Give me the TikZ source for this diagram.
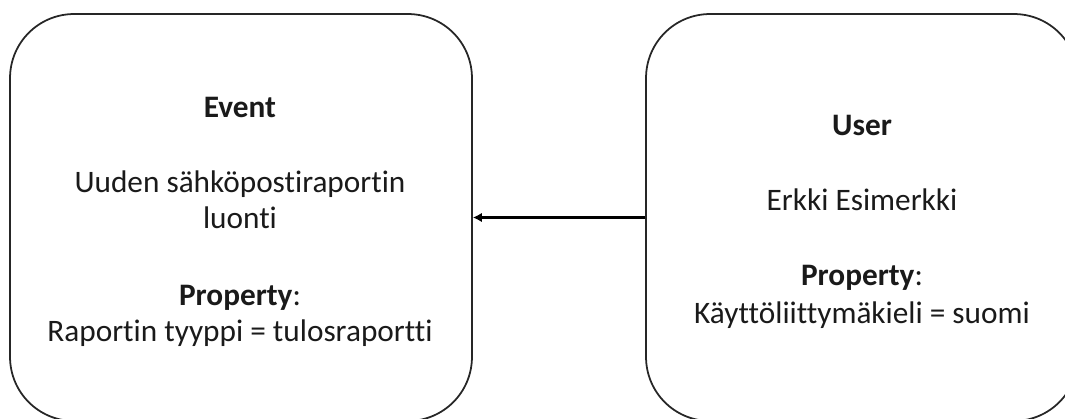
\documentclass[tikz,border=0pt]{standalone}
\usepackage{fontspec}
\setmainfont{Carlito}[Ligatures={NoCommon}]
\usetikzlibrary{arrows.meta}
\definecolor{cardline}{HTML}{262626}
\definecolor{cardtext}{HTML}{1a1a1a}

\tikzset{
  card/.style={draw=cardline, line width=1pt, rounded corners=1.28cm,
    minimum height=8.14cm, inner sep=0pt},
  cardtxt/.style={anchor=base, text=cardtext, inner sep=0pt,
    font=\fontsize{17.8}{21}\selectfont},
}

\begin{document}
\begin{tikzpicture}[x=0.02cm, y=-0.02cm, >={Latex[length=1.8mm, width=1.9mm]}]
  \useasboundingbox (0,0) rectangle (1065,419);
  \clip (0,0) rectangle (1065,419);

  % ---------------- event card ----------------
  \node[card, minimum width=9.24cm] (event) at (241,217.5) {};
  \node[cardtxt] (evhead)  at (240,117) {\textbf{Event}};
  \node[cardtxt] (evname1) at (240,192) {Uuden sähköpostiraportin};
  \node[cardtxt] (evname2) at (240,228) {luonti};
  \node[cardtxt] (evprop)  at (240,305) {\textbf{Property}:};
  \node[cardtxt] (evval)   at (240,341) {Raportin tyyppi = tulosraportti};

  % ---------------- user card ----------------
  \node[card, minimum width=8.64cm] (user) at (862,217.5) {};
  \node[cardtxt] (ushead) at (862,135) {\textbf{User}};
  \node[cardtxt] (usname) at (862,210) {Erkki Esimerkki};
  \node[cardtxt] (usprop) at (862,285) {\textbf{Property}:};
  \node[cardtxt] (usval)  at (862,323) {Käyttöliittymäkieli = suomi};

  % user -> event
  \draw[->, line width=1.7pt] (user.west) -- (event.east);
\end{tikzpicture}
\end{document}
